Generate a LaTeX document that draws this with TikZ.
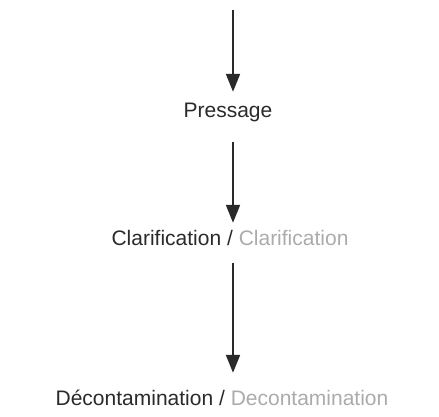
\documentclass[tikz,border=0pt]{standalone}
\usepackage{fontspec}
\setmainfont{Liberation Sans}
\usetikzlibrary{arrows.meta}
\definecolor{inkdark}{HTML}{2A2A2A}
\definecolor{inkgrey}{HTML}{ABABAB}
\tikzset{
  step label/.style={inner sep=0pt, text height=16pt, text depth=5pt,
    anchor=base, text=inkdark, font=\fontsize{21}{25}\selectfont},
  flow/.style={draw=inkdark, line width=2pt,
    -{Triangle[width=14pt,length=18pt]}}
}
\begin{document}
\begin{tikzpicture}[x=1pt,y=-1pt]
      \useasboundingbox (0,0) rectangle (439,417);
      \coordinate (top) at (233,10);
      \node[step label] (pressage) at (228,118) {Pressage};
      \node[step label] (clarif) at (230,245)
        {Clarification / \textcolor{inkgrey}{Clarification}};
      \node[step label] (decont) at (222,405)
        {Décontamination / \textcolor{inkgrey}{Decontamination}};
      \begin{scope}[flow]
        \draw[shorten >=10pt] (top) -- (top |- pressage.north);
        \draw[shorten <=19pt, shorten >=6pt]
          (top |- pressage.south) -- (top |- clarif.north);
        \draw[shorten <=13pt, shorten >=16pt]
          (top |- clarif.south) -- (top |- decont.north);
      \end{scope}
    \end{tikzpicture}
\end{document}
